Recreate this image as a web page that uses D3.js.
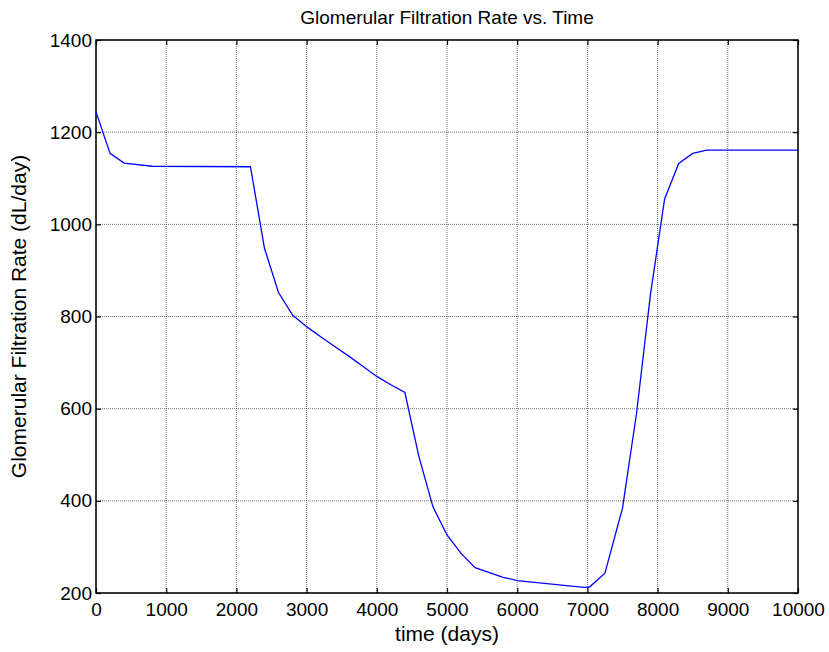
<!DOCTYPE html>
<html>
<head>
<meta charset="utf-8">
<script src="https://cdn.jsdelivr.net/npm/d3@7"></script>
<style>
  body { margin: 0; background: #fff; }
  svg { display: block; font-family: "Liberation Sans", Arial, sans-serif; }
</style>
</head>
<body>
<svg id="chart" width="829" height="652"></svg>
<script>
// time samples (days) and GFR (dL/day)
const timeDays = [0, 200, 400, 800, 2200, 2400, 2600, 2800, 3000, 3200, 3400, 3600, 3800, 4000,
  4200, 4400, 4600, 4800, 5000, 5200, 5400, 5800, 6000, 6950, 7030, 7250, 7500, 7700, 7900,
  8100, 8300, 8500, 8700, 10000];
const gfrValues = [1244, 1154, 1133, 1126, 1125, 948, 852, 803, 778, 756, 735, 714, 692, 670,
  652, 635, 496, 387, 326, 286, 255, 234, 227, 212, 213, 243, 384, 590, 850,
  1055, 1132, 1154, 1161, 1161];

const xTicks = [0, 1000, 2000, 3000, 4000, 5000, 6000, 7000, 8000, 9000, 10000];
const yTicks = [200, 400, 600, 800, 1000, 1200, 1400];

const margin = {top: 40, right: 31, bottom: 59, left: 96};
const width  = 829 - margin.left - margin.right;
const height = 652 - margin.top - margin.bottom;

const svg = d3.select("#chart");
const g = svg.append("g").attr("transform", `translate(${margin.left},${margin.top})`);

const x = d3.scaleLinear().domain([0, 10000]).range([0, width]);
const y = d3.scaleLinear().domain([200, 1400]).range([height, 0]);

// dotted grid
g.append("g").selectAll("line.gx")
  .data(xTicks).enter().append("line")
  .attr("x1", d => x(d)).attr("x2", d => x(d))
  .attr("y1", 0).attr("y2", height)
  .attr("stroke", "#000").attr("stroke-width", 1)
  .attr("stroke-dasharray", "1,1").attr("opacity", 0.55);

g.append("g").selectAll("line.gy")
  .data(yTicks).enter().append("line")
  .attr("y1", d => y(d)).attr("y2", d => y(d))
  .attr("x1", 0).attr("x2", width)
  .attr("stroke", "#000").attr("stroke-width", 1)
  .attr("stroke-dasharray", "1,1").attr("opacity", 0.55);

// axes with inward ticks, labels on bottom and left only
const tickLen = 5;
const styleAxis = sel => {
  sel.select(".domain").remove();
  sel.selectAll(".tick line").attr("stroke", "#000").attr("stroke-width", 1.2);
  sel.selectAll(".tick text").attr("fill", "#000").style("font-size", "19px");
};

g.append("g").attr("transform", `translate(0,${height})`)
  .call(d3.axisBottom(x).tickValues(xTicks).tickFormat(d3.format("d"))
    .tickSizeInner(-tickLen).tickSizeOuter(0).tickPadding(10))
  .call(styleAxis);

g.append("g")
  .call(d3.axisLeft(y).tickValues(yTicks).tickFormat(d3.format("d"))
    .tickSizeInner(-tickLen).tickSizeOuter(0).tickPadding(4))
  .call(styleAxis);

g.append("g")
  .call(d3.axisTop(x).tickValues(xTicks).tickFormat("")
    .tickSizeInner(-tickLen).tickSizeOuter(0))
  .call(styleAxis);

g.append("g").attr("transform", `translate(${width},0)`)
  .call(d3.axisRight(y).tickValues(yTicks).tickFormat("")
    .tickSizeInner(-tickLen).tickSizeOuter(0))
  .call(styleAxis);

// box
g.append("rect")
  .attr("width", width).attr("height", height)
  .attr("fill", "none").attr("stroke", "#000").attr("stroke-width", 1.5);

// the GFR curve
const line = d3.line()
  .x((d, i) => x(timeDays[i]))
  .y(d => y(d));

g.append("path")
  .datum(gfrValues)
  .attr("d", line)
  .attr("fill", "none")
  .attr("stroke", "#0000ff")
  .attr("stroke-width", 1.3);

// titles
svg.append("text")
  .attr("x", margin.left + width / 2).attr("y", 24)
  .attr("text-anchor", "middle")
  .style("font-size", "19px")
  .text("Glomerular Filtration Rate vs. Time");

svg.append("text")
  .attr("x", margin.left + width / 2).attr("y", 641)
  .attr("text-anchor", "middle")
  .style("font-size", "21px")
  .text("time (days)");

svg.append("text")
  .attr("transform", `translate(26,${margin.top + height / 2}) rotate(-90)`)
  .attr("text-anchor", "middle")
  .style("font-size", "21px")
  .text("Glomerular Filtration Rate (dL/day)");
</script>
</body>
</html>
